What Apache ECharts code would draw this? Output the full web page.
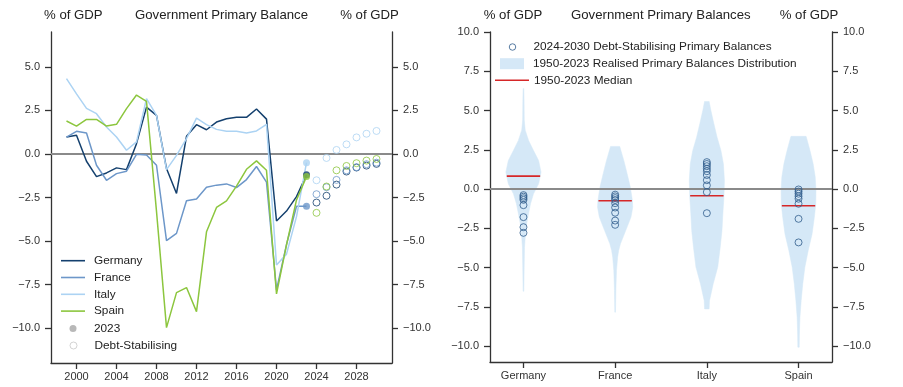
<!DOCTYPE html>
<html><head><meta charset="utf-8">
<script src="https://cdn.jsdelivr.net/npm/echarts@6/dist/echarts.min.js"></script>
<style>html,body{margin:0;padding:0;background:#fff}#c{width:903px;height:387px}</style>
</head><body><div id="c"></div>
<script>
// ---------- DATA ----------
const years = [1999,2000,2001,2002,2003,2004,2005,2006,2007,2008,2009,2010,2011,2012,2013,2014,2015,2016,2017,2018,2019,2020,2021,2022,2023];
const germany = [0.97,1.07,-0.42,-1.30,-1.09,-0.80,-0.90,0.59,2.69,2.21,-0.84,-2.27,1.01,1.68,1.39,1.83,2.02,2.10,2.10,2.58,2.00,-3.85,-3.28,-2.45,-1.2];
const france  = [0.97,1.30,1.20,-0.65,-1.51,-1.13,-0.99,-0.02,-0.06,-0.65,-4.98,-4.56,-2.69,-2.58,-1.91,-1.79,-1.72,-1.93,-1.47,-0.72,-1.62,-7.8,-5.2,-3.0,-3.0];
const italy   = [4.32,3.45,2.62,2.31,1.55,0.97,0.21,0.69,3.17,2.21,-0.90,-0.08,0.88,2.06,1.68,1.41,1.30,1.30,1.20,1.32,1.70,-6.37,-5.75,-3.6,-0.5];
const spain   = [1.89,1.60,1.98,1.98,1.60,1.70,2.60,3.38,3.02,-3.3,-9.97,-7.96,-7.67,-9.05,-4.47,-3.07,-2.69,-1.85,-0.88,-0.40,-0.94,-8.03,-5.22,-2.64,-1.3];
const dotYear = 2023;
const dot2023 = [-1.2,-3.0,-0.5,-1.3]; // Germany, France, Italy, Spain
const stabYears = [2024,2025,2026,2027,2028,2029,2030];
const stabGermany = [-2.79,-2.40,-1.76,-1.01,-0.78,-0.67,-0.57];
const stabFrance  = [-2.31,-1.91,-1.49,-0.94,-0.76,-0.59,-0.50];
const stabItaly   = [-1.51,-0.23,0.23,0.55,0.95,1.16,1.32];
const stabSpain   = [-3.38,-1.87,-0.94,-0.69,-0.53,-0.38,-0.29];
const xTicksLeft = [2000,2004,2008,2012,2016,2020,2024,2028];
const yTicksLeft = [-10,-7.5,-5,-2.5,0,2.5,5];

const countries = ['Germany','France','Italy','Spain'];
const medians = [0.83,-0.74,-0.42,-1.06];
const rightGermany = [-0.38,-0.48,-0.58,-0.68,-1.02,-1.78,-2.42,-2.78];
const rightFrance  = [-0.35,-0.46,-0.57,-0.69,-0.89,-1.17,-1.5,-2.0,-2.27];
const rightItaly   = [1.72,1.6,1.46,1.3,1.14,0.9,0.57,0.24,-0.19,-1.53];
const rightSpain   = [-0.02,-0.15,-0.29,-0.45,-0.61,-0.93,-1.89,-3.39];
// violin profiles: [value, relative density]
const violinGermany = [[6.4,0.02],[5.6,0.035],[4.4,0.045],[3.75,0.1],[3.1,0.29],[2.46,0.57],[1.82,0.86],[1.08,1.0],[0.34,0.86],[-0.3,0.57],[-0.93,0.4],[-1.78,0.25],[-2.42,0.15],[-3.05,0.1],[-3.7,0.06],[-4.96,0.04],[-6.5,0.02]];
const violinFrance  = [[2.72,0.26],[1.83,0.49],[0.98,0.68],[0.13,0.86],[-0.72,0.98],[-1.15,1.0],[-1.78,0.9],[-2.63,0.6],[-3.48,0.3],[-3.9,0.2],[-4.33,0.14],[-5.2,0.075],[-6.45,0.04],[-7.83,0.02]];
const violinItaly   = [[5.58,0.13],[5.0,0.23],[4.16,0.4],[3.31,0.58],[2.46,0.8],[1.61,0.94],[0.55,1.0],[-0.51,0.97],[-1.57,0.91],[-2.63,0.86],[-3.69,0.76],[-4.96,0.62],[-6.03,0.36],[-7.1,0.15],[-7.62,0.13]];
const violinSpain   = [[3.36,0.43],[2.46,0.65],[1.61,0.83],[0.76,0.95],[-0.08,0.99],[-0.93,0.98],[-1.78,0.9],[-2.85,0.77],[-3.91,0.55],[-4.97,0.36],[-6.03,0.24],[-7.1,0.15],[-8.16,0.08],[-9.22,0.05],[-10.06,0.04]];
const yTicksRight = [-10,-7.5,-5,-2.5,0,2.5,5,7.5,10];

// ---------- STYLE ----------
const FONT = '"Liberation Sans", Arial, sans-serif';
const colors = ['#14406e','#6d97c9','#acd3f3','#8cc63e'];
const AX = '#333';
const VIOLIN_HALF = 0.192;
const MEDIAN_HALF = 0.182;
const violinFill = '#d5e8f7';
const medianColor = '#d62728';
const circleColor = '#2f5d8c';
const zeroColor = '#8a8a8a';
const fmt = v => (v < 0 ? '\u2212' : '') + Math.abs(v).toFixed(1);

const lineData = [germany, france, italy, spain];
const stabData = [stabGermany, stabFrance, stabItaly, stabSpain];
const rightData = [rightGermany, rightFrance, rightItaly, rightSpain];
const violins = [violinGermany, violinFrance, violinItaly, violinSpain];

function yAx(grid, pos, min, max, ticks) {
  return {type:'value', gridIndex:grid, position:pos, min:min, max:max,
    axisLine:{show:true, onZero:false, lineStyle:{color:AX, width:1.3}},
    axisTick:{show:true, length:6, customValues:ticks, lineStyle:{color:AX, width:1.3}},
    axisLabel:{show:true, customValues:ticks, formatter:fmt, margin:11, color:AX, fontSize:11, fontFamily:FONT},
    splitLine:{show:false}};
}
function xAx(grid, min, max, ticks, formatter) {
  return {type:'value', gridIndex:grid, position:'bottom', min:min, max:max,
    axisLine:{show:true, onZero:false, lineStyle:{color:AX, width:1.3}},
    axisTick:{show:true, length:6, customValues:ticks, lineStyle:{color:AX, width:1.3}},
    axisLabel:{show:true, customValues:ticks, formatter:formatter, margin:8, color:AX, fontSize:11, fontFamily:FONT},
    splitLine:{show:false}};
}
// circle icons are laid out from the left edge of a box of size h, so shift them to the row's icon centre
function legendRow(name, left, cy, icon, w, h, itemStyle, pad) {
  const shift = icon === 'circle' ? (w - h) / 2 : 0;
  return {show:true, data:[{name:name, icon:icon, itemStyle:itemStyle}], left:left + shift, top:cy-7, orient:'vertical',
    itemWidth:w, itemHeight:h, padding:0, selectedMode:false,
    textStyle:{fontSize:11.8, color:'#222', fontFamily:FONT, lineHeight:14, padding:[0,0,0,pad]}};
}
function title(text, x) {
  return {type:'text', x:x, y:15, silent:true, style:{text:text, align:'center', textAlign:'center', verticalAlign:'middle', textVerticalAlign:'middle', font:'13.2px ' + FONT, fill:'#222'}};
}

const series = [];
countries.forEach((c, i) => {
  const s = {type:'line', name:c, xAxisIndex:0, yAxisIndex:0, data: years.map((y, k) => [y, lineData[i][k]]),
    symbol:'none', lineStyle:{width:1.5, color:colors[i]}, itemStyle:{color:colors[i]}, z:2, silent:true};
  if (i === 0) s.markLine = {silent:true, symbol:'none', z:1, label:{show:false}, lineStyle:{color:zeroColor, width:1.8, type:'solid'}, data:[{yAxis:0}]};
  series.push(s);
});
series.push({type:'scatter', name:'Debt-Stabilising', xAxisIndex:0, yAxisIndex:0, symbol:'circle', symbolSize:7, z:3, silent:true,
  itemStyle:{color:'rgba(0,0,0,0)', borderColor:'#c8c8c8', borderWidth:1},
  data: [].concat(...countries.map((c, i) => stabYears.map((y, k) => ({value:[y, stabData[i][k]], itemStyle:{color:'rgba(0,0,0,0)', borderColor:colors[i], borderWidth:1}}))))});
series.push({type:'scatter', name:'2023', xAxisIndex:0, yAxisIndex:0, symbol:'circle', symbolSize:7, z:4, silent:true,
  itemStyle:{color:'#a6a6a6'},
  data: countries.map((c, i) => ({value:[dotYear, dot2023[i]], itemStyle:{color:colors[i]}}))});

// right chart
series.push({type:'custom', name:'1950-2023 Realised Primary Balances Distribution', xAxisIndex:1, yAxisIndex:2, z:2, silent:true,
  data: countries.map((c, i) => [i, medians[i]]),
  renderItem: (params, api) => {
    const i = params.dataIndex;
    const prof = violins[i];
    const r = prof.map(p => api.coord([i + p[1] * VIOLIN_HALF, p[0]]));
    const l = prof.slice().reverse().map(p => api.coord([i - p[1] * VIOLIN_HALF, p[0]]));
    return {type:'polygon', shape:{points:r.concat(l)}, style:{fill:violinFill, stroke:violinFill, lineWidth:0.5}};
  },
  markLine:{silent:true, symbol:'none', z:3, label:{show:false}, lineStyle:{color:zeroColor, width:1.8, type:'solid'}, data:[{yAxis:0}]}
});
series.push({type:'custom', name:'1950-2023 Median', xAxisIndex:1, yAxisIndex:2, z:4, silent:true,
  data: countries.map((c, i) => [i, medians[i]]),
  renderItem: (params, api) => {
    const i = params.dataIndex;
    const a = api.coord([i - MEDIAN_HALF, api.value(1)]);
    const b = api.coord([i + MEDIAN_HALF, api.value(1)]);
    return {type:'line', shape:{x1:a[0], y1:a[1], x2:b[0], y2:b[1]}, style:{stroke:medianColor, lineWidth:1.6}};
  }
});
series.push({type:'scatter', name:'2024-2030 Debt-Stabilising Primary Balances', xAxisIndex:1, yAxisIndex:2, symbol:'circle', symbolSize:7, z:5, silent:true,
  itemStyle:{color:'rgba(0,0,0,0)', borderColor:circleColor, borderWidth:1},
  data: [].concat(...countries.map((c, i) => rightData[i].map(v => [i, v])))});

const option = {
  animation:false,
  backgroundColor:'#fff',
  textStyle:{fontFamily:FONT},
  grid:[{left:51, top:32, width:341, height:331}, {left:490, top:32, width:342, height:330}],
  xAxis:[xAx(0, 1997.45, 2031.55, xTicksLeft, v => String(v)), xAx(1, -0.365, 3.365, [0,1,2,3], v => countries[Math.round(v)] || '')],
  yAxis:[yAx(0,'left',-12,7,yTicksLeft), yAx(0,'right',-12,7,yTicksLeft), yAx(1,'left',-11,10,yTicksRight), yAx(1,'right',-11,10,yTicksRight)],
  legend:[
    legendRow('Germany', 61, 260.7, 'rect', 24, 1.6, {color:colors[0], borderWidth:0}, 4),
    legendRow('France', 61, 277.5, 'rect', 24, 1.6, {color:colors[1], borderWidth:0}, 4),
    legendRow('Italy', 61, 294.3, 'rect', 24, 1.6, {color:colors[2], borderWidth:0}, 4),
    legendRow('Spain', 61, 311.1, 'rect', 24, 1.6, {color:colors[3], borderWidth:0}, 4),
    legendRow('2023', 61, 328.4, 'circle', 24, 7, {color:'#a6a6a6', borderWidth:0}, 4),
    legendRow('Debt-Stabilising', 61, 345.5, 'circle', 24, 7, {color:'rgba(0,0,0,0)', borderColor:'#c8c8c8', borderWidth:1}, 4),
    legendRow('2024-2030 Debt-Stabilising Primary Balances', 500, 47, 'circle', 24, 6.5, {color:'rgba(0,0,0,0)', borderColor:circleColor, borderWidth:1}, 4),
    legendRow('1950-2023 Realised Primary Balances Distribution', 500, 63.7, 'rect', 24, 11, {color:violinFill, borderWidth:0}, 4),
    legendRow('1950-2023 Median', 495, 80.3, 'rect', 34, 1.6, {color:medianColor, borderWidth:0}, 0)
  ],
  graphic:[
    title('% of GDP', 73.3), title('Government Primary Balance', 221.5), title('% of GDP', 369.5),
    title('% of GDP', 513), title('Government Primary Balances', 660.8), title('% of GDP', 809)
  ],
  series: series
};
const chart = echarts.init(document.getElementById('c'), null, {renderer:'canvas'});
chart.setOption(option);
</script>
</body></html>
